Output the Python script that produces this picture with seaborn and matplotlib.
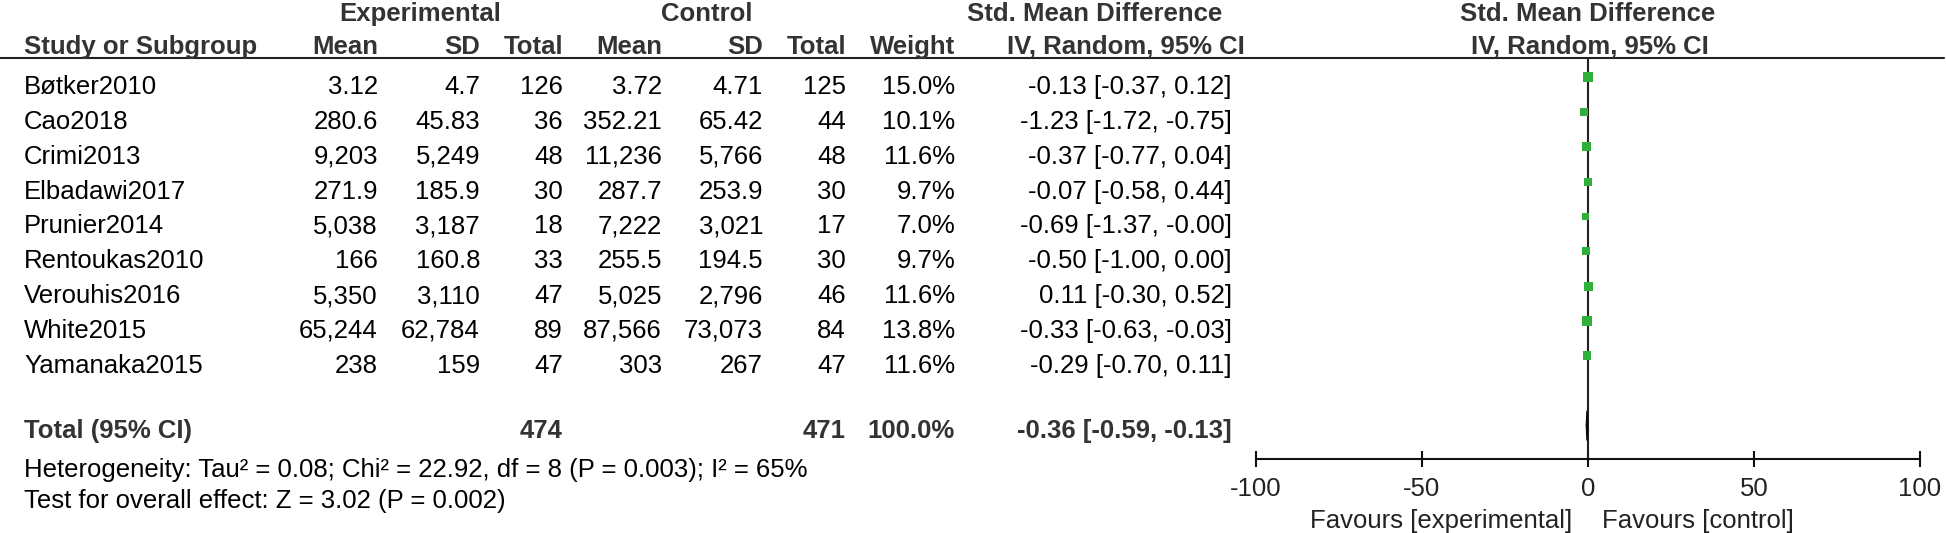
import numpy as np
import pandas as pd
import matplotlib
matplotlib.use('Agg')
import matplotlib.pyplot as plt
import seaborn as sns

studies = ['Bøtker2010', 'Cao2018', 'Crimi2013', 'Elbadawi2017', 'Prunier2014',
           'Rentoukas2010', 'Verouhis2016', 'White2015', 'Yamanaka2015']
exp_mean = ['3.12', '280.6', '9,203', '271.9', '5,038', '166', '5,350', '65,244', '238']
exp_sd = ['4.7', '45.83', '5,249', '185.9', '3,187', '160.8', '3,110', '62,784', '159']
exp_n = [126, 36, 48, 30, 18, 33, 47, 89, 47]
ctl_mean = ['3.72', '352.21', '11,236', '287.7', '7,222', '255.5', '5,025', '87,566', '303']
ctl_sd = ['4.71', '65.42', '5,766', '253.9', '3,021', '194.5', '2,796', '73,073', '267']
ctl_n = [125, 44, 48, 30, 17, 30, 46, 84, 47]
weight = [15.0, 10.1, 11.6, 9.7, 7.0, 9.7, 11.6, 13.8, 11.6]
smd = [-0.13, -1.23, -0.37, -0.07, -0.69, -0.50, 0.11, -0.33, -0.29]
ci_lo = [-0.37, -1.72, -0.77, -0.58, -1.37, -1.00, -0.30, -0.63, -0.70]
ci_hi = [0.12, -0.75, 0.04, 0.44, -0.00, 0.00, 0.52, -0.03, 0.11]
total_smd, total_lo, total_hi = -0.36, -0.59, -0.13
total_exp_n, total_ctl_n = 474, 471
total_weight = 100.0
ticks = [-100, -50, 0, 50, 100]
heterogeneity = 'Heterogeneity: Tau² = 0.08; Chi² = 22.92, df = 8 (P = 0.003); I² = 65%'
overall = 'Test for overall effect: Z = 3.02 (P = 0.002)'

df = pd.DataFrame({'study': studies, 'smd': smd, 'lo': ci_lo, 'hi': ci_hi, 'weight': weight})
df['row'] = np.arange(len(df))

sns.set_theme(style='white')
plt.rcParams['font.family'] = ['Liberation Sans', 'DejaVu Sans']

W, H = 1946, 533
FS = 18.5
HEAD = '#333333'
GREEN = '#2eb03a'
ROW0 = 77      # pixel centre of first plot row
STEP = 34.85   # pixel distance between rows

fig = plt.figure(figsize=(W / 100, H / 100), dpi=100)
bg = fig.add_axes([0, 0, 1, 1])
bg.set_xlim(0, W)
bg.set_ylim(H, 0)
bg.axis('off')

# header
bg.text(420, 21, 'Experimental', ha='center', va='baseline', fontsize=FS, weight='bold', color=HEAD)
bg.text(707, 21, 'Control', ha='center', va='baseline', fontsize=FS, weight='bold', color=HEAD)
bg.text(1095, 21, 'Std. Mean Difference', ha='center', va='baseline', fontsize=FS, weight='bold', color=HEAD)
bg.text(1588, 21, 'Std. Mean Difference', ha='center', va='baseline', fontsize=FS, weight='bold', color=HEAD)

cols = [(378, 'Mean'), (480, 'SD'), (563, 'Total'), (662, 'Mean'), (763, 'SD'),
        (846, 'Total'), (955, 'Weight')]
bg.text(24, 54, 'Study or Subgroup', ha='left', va='baseline', fontsize=FS, weight='bold', color=HEAD)
for x, lab in cols:
    bg.text(x, 54, lab, ha='right', va='baseline', fontsize=FS, weight='bold', color=HEAD)
bg.text(1245, 54, 'IV, Random, 95% CI', ha='right', va='baseline', fontsize=FS, weight='bold', color=HEAD)
bg.text(1590, 54, 'IV, Random, 95% CI', ha='center', va='baseline', fontsize=FS, weight='bold', color=HEAD)
bg.plot([0, 1944], [58, 58], color='#222222', lw=1.5)

# study rows
for i in range(len(studies)):
    y = ROW0 + STEP * i + 17
    vals = [exp_mean[i], exp_sd[i], exp_n[i], ctl_mean[i], ctl_sd[i], ctl_n[i], f'{weight[i]:.1f}%']
    bg.text(24, y, studies[i], ha='left', va='baseline', fontsize=FS, color='black')
    for (x, _), v in zip(cols, vals):
        bg.text(x, y, str(v), ha='right', va='baseline', fontsize=FS, color='black')
    bg.text(1232, y, f'{smd[i]:.2f} [{ci_lo[i]:.2f}, {ci_hi[i]:.2f}]',
            ha='right', va='baseline', fontsize=FS, color='black')

# total row
ty = 438
bg.text(24, ty, 'Total (95% CI)', ha='left', va='baseline', fontsize=FS, weight='bold', color=HEAD)
bg.text(563, ty, str(total_exp_n), ha='right', va='baseline', fontsize=FS, weight='bold', color=HEAD)
bg.text(846, ty, str(total_ctl_n), ha='right', va='baseline', fontsize=FS, weight='bold', color=HEAD)
bg.text(955, ty, f'{total_weight:.1f}%', ha='right', va='baseline', fontsize=FS, weight='bold', color=HEAD)
bg.text(1232, ty, f'{total_smd:.2f} [{total_lo:.2f}, {total_hi:.2f}]', ha='right', va='baseline',
        fontsize=FS, weight='bold', color=HEAD)
bg.text(24, 477, heterogeneity, ha='left', va='baseline', fontsize=FS, color='black')
bg.text(24, 508, overall, ha='left', va='baseline', fontsize=FS, color='black')
bg.text(1572, 528, 'Favours [experimental]', ha='right', va='baseline', fontsize=FS, color='#222222')
bg.text(1602, 528, 'Favours [control]', ha='left', va='baseline', fontsize=FS, color='#222222')

# forest plot
x0, x1 = 1256, 1920
ax = fig.add_axes([x0 / W, 0, (x1 - x0) / W, 1])
ax.set_facecolor('none')
ax.set_xlim(-100, 100)
ax.set_ylim((H - ROW0) / STEP, -ROW0 / STEP)
to_row = lambda px: (px - ROW0) / STEP
axis_row = to_row(459)
total_row = 10

ax.vlines(0, to_row(58), axis_row, color='#222222', lw=1.5, zorder=1)
ax.hlines(df['row'], df['lo'], df['hi'], color='black', lw=1, zorder=2)
sizes = (2.6 * np.sqrt(df['weight']) * 0.72) ** 2
sns.scatterplot(data=df, x='smd', y='row', marker='s', color=GREEN, s=sizes,
                edgecolor=GREEN, linewidth=0, legend=False, ax=ax, zorder=3)
dh = 0.43
ax.fill([total_lo, total_smd, total_hi, total_smd],
        [total_row, total_row - dh, total_row, total_row + dh], color='black', lw=0.6, zorder=3)

for s in ['top', 'left', 'right']:
    ax.spines[s].set_visible(False)
ax.spines['bottom'].set_position(('data', axis_row))
ax.spines['bottom'].set_bounds(-100, 100)
ax.spines['bottom'].set_linewidth(1.5)
ax.spines['bottom'].set_color('#111111')
ax.set_xticks(ticks)
ax.set_xticklabels([str(t) for t in ticks])
ax.set_yticks([])
ax.tick_params(axis='x', direction='inout', length=12, width=1.5, color='#111111',
               labelsize=FS, labelcolor='#222222', pad=7, bottom=True)
ax.set_xlabel('')
ax.set_ylabel('')

fig.savefig('out.png', dpi=100)
